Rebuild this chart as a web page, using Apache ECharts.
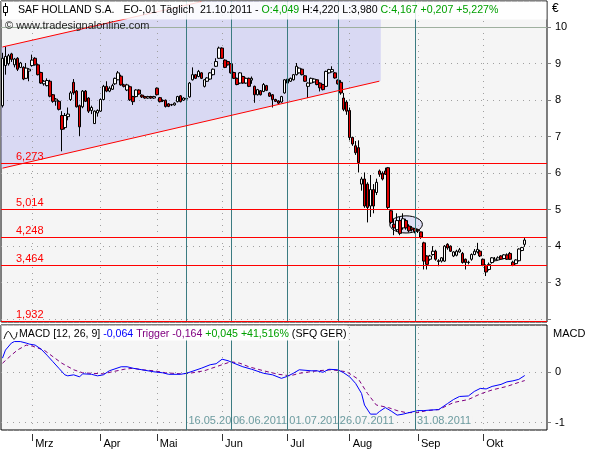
<!DOCTYPE html>
<html><head><meta charset="utf-8">
<script src="https://cdn.jsdelivr.net/npm/echarts@6/dist/echarts.min.js"></script>
<style>html,body{margin:0;padding:0;background:#fff}#c{width:600px;height:450px}</style>
</head><body><div id="c"></div><script>
// ---- trading-day categories (2011) ----
const febDays=[15,16,17,18,21,22,23,24,25,28];
const marDays=[1,2,3,4,7,8,9,10,11,14,15,16,17,18,21,22,23,24,25,28,29,30,31];
const aprDays=[1,4,5,6,7,8,11,12,13,14,15,18,19,20,21,26,27,28,29];
const mayDays=[2,3,4,5,6,9,10,11,12,13,16,17,18,19,20,23,24,25,26,27,30,31];
const junDays=[1,2,3,6,7,8,9,10,13,14,15,16,17,20,21,22,23,24,27,28,29,30];
const julDays=[1,4,5,6,7,8,11,12,13,14,15,18,19,20,21,22,25,26,27,28,29];
const augDays=[1,2,3,4,5,8,9,10,11,12,15,16,17,18,19,22,23,24,25,26,29,30,31];
const sepDays=[1,2,5,6,7,8,9,12,13,14,15,16,19,20,21,22,23,26,27,28,29,30];
const octDays=[3,4,5,6,7,10,11,12,13,14,17,18,19,20,21,24,25,26,27,28,31];
const novDays=[1];
const monthStarts=['01.03.2011','01.04.2011','02.05.2011','01.06.2011','01.07.2011','01.08.2011','01.09.2011','03.10.2011'];
const monthNames=['Mrz','Apr','Mai','Jun','Jul','Aug','Sep','Okt'];

// ---- price candles (open, close, low, high) ----
const open=[7.85,8.95,9.00,9.27,8.97,9.15,8.90,8.90,8.60,8.80,
8.95,9.15,8.97,8.76,8.45,8.40,8.52,8.15,7.98,7.97,
7.58,7.25,7.55,8.02,8.49,8.25,7.85,7.82,8.25,8.06,
7.72,7.36,7.65,7.70,8.02,8.38,8.25,8.30,8.45,8.56,
8.66,8.42,8.28,8.37,8.10,8.10,8.28,8.14,8.10,8.06,
8.10,8.06,8.33,8.07,8.00,8.00,7.90,7.88,7.87,7.96,
8.12,8.00,8.03,8.09,8.56,8.70,8.65,8.75,8.38,8.52,
8.58,8.70,8.93,9.15,9.43,9.10,9.06,9.00,8.76,8.60,
8.47,8.65,8.47,8.60,8.55,8.38,8.15,8.26,8.24,8.40,
8.20,8.15,8.02,7.98,7.95,8.20,8.58,8.52,8.56,8.70,
8.75,8.85,8.67,8.38,8.47,8.50,8.56,8.47,8.43,8.38,
8.75,8.78,8.75,8.55,8.49,8.06,7.95,7.72,6.98,6.75,
6.70,5.70,5.84,5.70,5.10,5.55,5.47,6.06,6.00,6.06,
6.15,4.97,4.60,4.45,4.70,4.50,4.70,4.55,4.50,4.48,
4.45,4.39,4.09,3.73,3.64,3.77,3.86,3.60,3.59,3.59,
4.05,4.00,3.73,3.75,3.84,3.80,3.64,3.55,3.64,3.77,
3.84,3.86,3.64,3.47,3.36,3.55,3.60,3.62,3.73,3.66,
3.76,3.80,3.56,3.52,3.60,3.88,4.049];
const close=[9.15,9.20,9.22,9.12,9.13,8.85,9.02,8.58,8.88,8.85,
9.10,8.97,8.70,8.47,8.52,8.54,8.11,7.97,8.03,7.75,
7.20,7.58,7.62,8.20,8.20,7.82,7.27,8.25,7.97,7.70,
7.80,7.70,7.72,8.02,8.38,8.25,8.33,8.40,8.60,8.75,
8.42,8.38,8.42,8.01,7.96,8.28,8.17,8.09,8.06,8.10,
8.06,8.10,8.15,7.96,7.98,7.83,7.83,7.87,7.92,8.10,
7.96,8.06,8.05,8.47,8.70,8.60,8.79,8.60,8.56,8.61,
8.75,8.85,9.06,9.43,9.15,8.90,8.97,8.75,8.60,8.43,
8.75,8.47,8.60,8.38,8.60,8.15,8.29,8.15,8.43,8.27,
8.11,8.02,7.97,7.92,8.10,8.56,8.47,8.60,8.70,8.93,
8.88,8.70,8.52,8.47,8.60,8.58,8.43,8.34,8.29,8.79,
8.84,8.84,8.61,8.45,8.20,7.75,7.70,6.98,6.80,6.56,
6.29,5.84,5.10,5.06,5.55,5.10,5.75,5.97,5.84,5.97,
5.06,4.65,4.50,4.70,4.35,4.75,4.50,4.42,4.45,4.40,
4.42,4.25,3.59,3.50,3.73,3.86,3.64,3.58,3.68,4.00,
3.95,3.86,3.84,3.86,3.90,3.55,3.55,3.56,3.77,3.86,
3.91,3.73,3.48,3.29,3.50,3.68,3.64,3.68,3.64,3.76,
3.64,3.64,3.47,3.62,3.92,3.96,4.167];
const low=[7.80,8.70,8.95,9.05,8.90,8.80,8.88,8.55,8.58,8.52,
8.92,8.95,8.68,8.45,8.40,8.38,8.08,7.93,7.85,7.72,
6.60,7.20,7.45,7.98,8.15,7.80,7.02,7.78,7.95,7.65,
7.62,7.35,7.55,7.68,8.00,8.22,8.22,8.28,8.42,8.55,
8.40,8.35,8.25,7.98,7.87,8.08,8.15,8.06,8.04,8.04,
8.04,8.04,8.13,7.94,7.95,7.80,7.81,7.84,7.85,7.94,
7.94,7.98,8.00,8.07,8.54,8.58,8.63,8.58,8.35,8.50,
8.56,8.68,8.91,9.13,9.13,8.88,8.95,8.73,8.58,8.41,
8.45,8.45,8.45,8.36,8.45,7.93,8.13,8.13,8.22,8.25,
8.09,7.80,7.95,7.90,7.93,8.18,8.45,8.50,8.54,8.68,
8.73,8.68,8.50,8.06,8.45,8.48,8.41,8.24,8.27,8.36,
8.73,8.76,8.59,8.43,8.15,7.70,7.60,6.90,6.75,6.50,
6.02,5.52,5.05,4.65,4.80,4.90,5.40,5.90,5.80,5.95,
5.00,4.60,4.30,4.40,4.30,4.45,4.45,4.38,4.40,4.35,
4.36,4.20,3.36,3.36,3.60,3.74,3.60,3.45,3.55,3.57,
3.90,3.84,3.70,3.72,3.82,3.52,3.36,3.50,3.60,3.75,
3.80,3.70,3.45,3.18,3.33,3.52,3.58,3.60,3.62,3.64,
3.62,3.62,3.45,3.50,3.58,3.86,3.98];
const high=[9.30,9.47,9.27,9.30,9.16,9.18,9.05,8.93,9.02,8.88,
9.25,9.18,9.00,8.78,8.55,8.60,8.56,8.17,8.06,8.00,
7.70,7.65,7.80,8.25,8.58,8.28,7.88,8.28,8.28,8.08,
7.85,7.72,7.75,8.05,8.42,8.52,8.38,8.45,8.62,8.80,
8.70,8.45,8.45,8.40,8.12,8.30,8.30,8.16,8.12,8.12,
8.12,8.12,8.35,8.09,8.02,8.02,7.92,7.90,7.94,8.12,
8.14,8.08,8.07,8.50,8.90,8.72,8.83,8.77,8.58,8.63,
8.77,8.87,9.15,9.47,9.45,9.12,9.08,9.02,8.78,8.62,
8.77,8.67,8.62,8.62,8.65,8.40,8.31,8.28,8.47,8.42,
8.22,8.17,8.04,8.00,8.12,8.58,8.60,8.62,8.72,9.02,
8.90,8.87,8.69,8.49,8.62,8.60,8.58,8.49,8.45,8.81,
8.86,8.93,8.77,8.57,8.55,8.20,8.00,7.80,7.00,6.88,
6.90,5.90,6.02,5.75,5.95,5.70,5.85,6.10,6.05,6.15,
6.17,5.00,4.75,4.90,4.80,4.90,4.75,4.60,4.55,4.50,
4.48,4.40,4.12,3.75,3.76,4.00,3.90,3.64,3.70,4.03,
4.08,4.02,3.86,3.90,3.95,3.84,3.66,3.60,3.80,3.92,
4.09,3.90,3.66,3.50,3.55,3.70,3.70,3.72,3.75,3.78,
3.80,3.84,3.60,3.64,3.94,3.98,4.22];

// ---- horizontal levels, event dates, trend channel ----
const levelValues=[6.273,5.014,4.248,3.464,1.932];
const levelLabels=['6,273','5,014','4,248','3,464','1,932'];
const roundValues=[10,5];
const eventDates=['16.05.2011','06.06.2011','01.07.2011','26.07.2011','31.08.2011'];
const lowerDays=[0,127], lowerLine=[6.137,8.522];
const upperDays=[0,67], upperLine=[9.46,10.70];
const ellipseDays=[131,141], ellipseRange=[4.36,4.83];

// ---- MACD (12,26,9) readings ----
const macdDay=[0,1,3,4,6,8,9,11,13,15,17,19,21,22,24,26,27,30,32,34,36,40,42,44,47,51,54,56,60,62,67,70,72,74,76,78,81,84,88,91,94,96,98,100,104,106,108,110,113,115,117,119,121,122,124,126,127,129,131,133,135,137,140,142,144,147,150,152,154,157,159,161,163,165,168,170,172,174,176];
const macdVal=[0.28,0.44,0.58,0.61,0.61,0.58,0.56,0.54,0.46,0.34,0.21,0.08,-0.05,-0.07,-0.05,-0.09,-0.03,-0.04,-0.07,-0.05,0.03,0.11,0.11,0.08,0.05,0.01,-0.01,-0.04,-0.04,-0.02,0.08,0.15,0.17,0.26,0.23,0.18,0.11,0.06,-0.02,-0.05,-0.12,-0.08,-0.02,0.05,0.03,0.03,0.0,0.06,0.05,-0.01,-0.09,-0.22,-0.42,-0.65,-0.83,-0.83,-0.78,-0.70,-0.77,-0.85,-0.83,-0.80,-0.76,-0.76,-0.75,-0.74,-0.62,-0.54,-0.48,-0.47,-0.38,-0.32,-0.33,-0.28,-0.24,-0.19,-0.17,-0.14,-0.064];
const trigDay=[0,3,5,8,10,14,17,20,24,27,30,34,37,41,44,47,51,55,60,63,68,72,77,80,83,88,93,97,100,106,111,116,120,123,126,130,133,136,140,143,147,152,157,161,165,170,174,176];
const trigVal=[0.18,0.34,0.44,0.54,0.52,0.44,0.31,0.18,0.05,-0.01,-0.02,-0.03,0.01,0.06,0.08,0.05,0.03,-0.01,-0.03,-0.02,0.03,0.11,0.21,0.18,0.11,0.03,-0.04,-0.07,-0.02,0.03,0.05,0.01,-0.14,-0.42,-0.65,-0.70,-0.76,-0.80,-0.80,-0.76,-0.74,-0.60,-0.54,-0.43,-0.35,-0.28,-0.20,-0.164];
const dateLabelLevel=-0.966;

// ---- build ----
function mk(m,days){return days.map(d=>(d<10?'0':'')+d+'.'+m+'.2011');}
const dates=[].concat(mk('02',febDays),mk('03',marDays),mk('04',aprDays),mk('05',mayDays),mk('06',junDays),mk('07',julDays),mk('08',augDays),mk('09',sepDays),mk('10',octDays),mk('11',novDays));
const candles=open.map((o,i)=>[o,close[i],low[i],high[i]]);
const FONT='"Liberation Sans", Arial, sans-serif';
const FS=10.6;
const BG='#f5f5f5', TEAL='#3b7b81', RED='#ff0000';
const isMonth=(i,v)=>monthStarts.indexOf(v)>=0;
const dotted={color:'#a0a0a0',type:[1,5],width:1};
const ML={silent:true,symbol:['none','none'],animation:false};

function markSeries(xi,yi,z,mark){
  return {type:'line',xAxisIndex:xi,yAxisIndex:yi,z:z,data:[],silent:true,markLine:Object.assign({},ML,mark)};
}
function hLineSeries(values,color,labels,z){
  return {type:'custom',xAxisIndex:0,yAxisIndex:0,z:z,silent:true,data:values.map(v=>[0,v]),
    renderItem:(params,api)=>{
      const cs=params.coordSys;
      const y=Math.floor(api.coord([0,api.value(1)])[1])+0.5;
      const kids=[{type:'line',shape:{x1:cs.x,y1:y,x2:cs.x+cs.width,y2:y},style:{stroke:color,lineWidth:1}}];
      if(labels){kids.push({type:'text',x:cs.x+15,y:y-1.5,style:{text:labels[params.dataIndex],fill:color,fontSize:11,fontFamily:FONT,verticalAlign:'bottom'}});}
      return {type:'group',children:kids};
    }};
}

const option={
 animation:false,
 backgroundColor:'#ffffff',
 grid:[
  {left:1,top:1,width:546,height:321,show:true,backgroundColor:BG,borderColor:'#000',borderWidth:1},
  {left:1,top:325,width:546,height:105,show:true,backgroundColor:BG,borderColor:'#000',borderWidth:1}
 ],
 xAxis:[
  {type:'category',gridIndex:0,data:dates,boundaryGap:true,axisLine:{show:false,onZero:false},axisTick:{show:false},axisLabel:{show:false},splitLine:{show:false}},
  {type:'category',gridIndex:1,data:dates,boundaryGap:true,offset:4,axisLine:{show:false,onZero:false},
   axisTick:{show:true,interval:isMonth,alignWithLabel:true,length:7,lineStyle:{color:'#333'}},
   axisLabel:{interval:isMonth,align:'left',margin:4,padding:[0,0,0,3],color:'#000',fontSize:11,fontFamily:FONT,
     formatter:v=>monthNames[monthStarts.indexOf(v)]||''},
   splitLine:{show:false}}
 ],
 yAxis:[
  {type:'value',gridIndex:0,position:'right',min:1.92,max:10.72,splitNumber:9,
   axisLine:{show:false},axisTick:{show:true,length:4,lineStyle:{color:'#808080'}},
   axisLabel:{margin:8,color:'#000',fontSize:11,fontFamily:FONT,showMinLabel:false,showMaxLabel:false,
     formatter:v=>(Math.abs(v-Math.round(v))<1e-9&&v>=3)?String(Math.round(v)):''},
   splitLine:{show:true,lineStyle:dotted}},
  {type:'value',gridIndex:1,position:'right',min:-1.145,max:0.9385,splitNumber:2,
   axisLine:{show:false},axisTick:{show:true,length:4,lineStyle:{color:'#808080'}},
   axisLabel:{margin:8,color:'#000',fontSize:11,fontFamily:FONT,showMinLabel:false,showMaxLabel:false,
     formatter:v=>(Math.abs(v)<1e-9)?'0':(Math.abs(v+1)<1e-9?'-1':'')},
   splitLine:{show:true,lineStyle:dotted}}
 ],
 series:[
  // trend channel fill (between the two parallel lines, clipped at the panel top)
  {type:'custom',xAxisIndex:0,yAxisIndex:0,z:1,silent:true,data:[[0,lowerLine[0]]],
   renderItem:(params,api)=>{
     const cs=params.coordSys;
     const band=api.size([1,0])[0];
     const la=api.coord([lowerDays[0],lowerLine[0]]), lb=api.coord([lowerDays[1],lowerLine[1]]);
     const ua=api.coord([upperDays[0],upperLine[0]]), ub=api.coord([upperDays[1],upperLine[1]]);
     const left=cs.x, right=lb[0]+band/2, top=cs.y;
     const sl=(lb[1]-la[1])/(lb[0]-la[0]), su=(ub[1]-ua[1])/(ub[0]-ua[0]);
     const yl0=la[1]+(left-la[0])*sl, yl1=lb[1]+(right-lb[0])*sl;
     const yu0=ua[1]+(left-ua[0])*su;
     const xCross=ua[0]+(top-ua[1])/su;
     return {type:'polygon',shape:{points:[[left,yu0],[xCross,top],[right,top],[right,yl1],[left,yl0]]},
       style:{fill:'rgba(170,170,240,0.36)'}};
   }
  },
  markSeries(0,0,2,{z:2,label:{show:false},lineStyle:dotted,data:monthStarts.map(d=>({xAxis:d}))}),
  {type:'custom',xAxisIndex:0,yAxisIndex:0,z:2,silent:true,data:[[ellipseDays[0],ellipseRange[0]]],
   renderItem:(params,api)=>{
     const band=api.size([1,0])[0];
     const p0=api.coord([ellipseDays[0],ellipseRange[1]]);
     const p1=api.coord([ellipseDays[1],ellipseRange[0]]);
     const x0=p0[0]-band/2,x1=p1[0]+band/2;
     return {type:'ellipse',shape:{cx:(x0+x1)/2,cy:(p0[1]+p1[1])/2,rx:(x1-x0)/2,ry:(p1[1]-p0[1])/2},
       style:{fill:'rgba(200,200,245,0.5)',stroke:'#000',lineWidth:1}};
   }
  },
  {type:'candlestick',xAxisIndex:0,yAxisIndex:0,z:3,data:candles,barWidth:3,
   itemStyle:{color:'#ffffff',color0:'#e00000',borderColor:'#000',borderColor0:'#000',borderWidth:1}},
  hLineSeries(roundValues,'#9fb09f',null,4),
  markSeries(0,0,4,{z:6,label:{show:false},lineStyle:{color:TEAL,width:1,type:'solid'},data:eventDates.map(d=>({xAxis:d}))}),
  hLineSeries(levelValues,RED,levelLabels,7),
  markSeries(0,0,5,{z:7,label:{show:false},lineStyle:{color:RED,width:1,type:'solid'},
    data:[
      [{coord:[dates[lowerDays[0]],lowerLine[0]]},{coord:[dates[lowerDays[1]],lowerLine[1]]}],
      [{coord:[dates[upperDays[0]],upperLine[0]]},{coord:[dates[upperDays[1]],upperLine[1]]}]
    ]}),
  markSeries(1,1,1,{z:1,label:{show:false},lineStyle:dotted,data:monthStarts.map(d=>({xAxis:d}))}),
  {type:'scatter',xAxisIndex:1,yAxisIndex:1,z:2,symbolSize:0,itemStyle:{color:'transparent'},
   data:eventDates.map(d=>[d,dateLabelLevel]),
   label:{show:true,position:'right',distance:1,formatter:p=>p.value[0],color:'#4a8489',fontSize:11,fontFamily:FONT,backgroundColor:BG,padding:[0,1,0,1]}
  },
  {type:'line',xAxisIndex:1,yAxisIndex:1,z:3,data:trigDay.map((d,k)=>[d,trigVal[k]]),showSymbol:false,symbol:'none',
   lineStyle:{color:'#800080',width:1,type:[4,3]}},
  {type:'line',xAxisIndex:1,yAxisIndex:1,z:4,data:macdDay.map((d,k)=>[d,macdVal[k]]),showSymbol:false,symbol:'none',
   lineStyle:{color:'#0000ff',width:1}},
  markSeries(1,1,6,{z:8,label:{show:false},lineStyle:{color:TEAL,width:1,type:'solid'},data:eventDates.map(d=>({xAxis:d}))})
 ],
 graphic:[
  {type:'rect',z:100,shape:{x:1.5,y:1.5,width:545,height:18},style:{fill:'rgba(255,255,255,0.85)'}},
  {type:'line',z:101,shape:{x1:5.5,y1:3,x2:5.5,y2:16},style:{stroke:'#000',lineWidth:1}},
  {type:'rect',z:102,shape:{x:3.5,y:6.5,width:4,height:6},style:{fill:'#fff',stroke:'#000',lineWidth:1}},
  {type:'text',z:101,x:18,y:10.5,style:{verticalAlign:'middle',
    text:'{k|SAF HOLLAND S.A.   EO-,01 Täglich  21.10.2011 - }{g|O:4,049}{k| H:4,220 L:3,980 }{g|C:4,167 +0,207 +5,227%}',
    rich:{k:{fill:'#000',fontSize:FS,fontFamily:FONT},g:{fill:'#00a000',fontSize:FS,fontFamily:FONT}}}},
  {type:'text',z:101,x:5,y:26,style:{verticalAlign:'middle',text:'© www.tradesignalonline.com',fill:'#222',fontSize:11,fontFamily:FONT}},
  {type:'text',z:101,x:552,y:9,style:{verticalAlign:'middle',text:'€',fill:'#000',fontSize:12,fontFamily:FONT}},
  {type:'text',z:101,x:553,y:334,style:{verticalAlign:'middle',text:'MACD',fill:'#000',fontSize:11,fontFamily:FONT}},
  {type:'rect',z:100,shape:{x:1.5,y:325.5,width:346,height:15},style:{fill:'rgba(255,255,255,0.95)'}},
  {type:'polyline',z:101,shape:{points:[[4,339],[6,334],[8,331.5],[10,333],[12,337],[14,339],[16,337],[17,332]],smooth:0.4},style:{stroke:'#000',lineWidth:1,fill:null}},
  {type:'text',z:101,x:19,y:334,style:{verticalAlign:'middle',
    text:'{k|MACD [12, 26, 9] }{b|-0,064}{p| Trigger -0,164}{g| +0,045 +41,516%}{k| (SFQ GER)}',
    rich:{k:{fill:'#000',fontSize:FS,fontFamily:FONT},b:{fill:'#0000ff',fontSize:FS,fontFamily:FONT},
      p:{fill:'#800080',fontSize:FS,fontFamily:FONT},g:{fill:'#00a000',fontSize:FS,fontFamily:FONT}}}}
 ]
};
const chart=echarts.init(document.getElementById('c'),null,{renderer:'canvas'});
chart.setOption(option);
</script></body></html>
